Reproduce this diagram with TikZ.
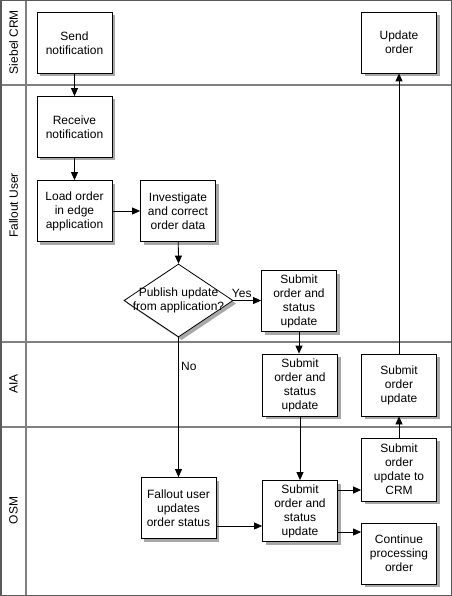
\documentclass[tikz,border=0pt]{standalone}
\usepackage{fontspec}
\setmainfont{Liberation Sans}
\usetikzlibrary{arrows.meta,shapes.geometric}
\definecolor{lanegray}{HTML}{808080}
\definecolor{shadowgray}{HTML}{A8A8A8}
\tikzset{
  boxnode/.style={draw=black, line width=0.8bp, fill=white, minimum width=75bp, minimum height=61bp,
    align=center, inner sep=1bp, font=\fontsize{12bp}{14bp}\selectfont},
  decnode/.style={draw=black, line width=0.8bp, fill=white, diamond, minimum width=109bp, minimum height=73bp,
    inner sep=0pt},
  txt/.style={font=\fontsize{12bp}{14bp}\selectfont, align=center, inner sep=0pt},
  lanelabel/.style={font=\fontsize{12bp}{14bp}\selectfont, rotate=90, inner sep=0pt},
  arr/.style={draw=black, line width=0.8bp, -{Triangle[length=8bp,width=7bp]}},
  laneline/.style={draw=lanegray, line width=1.2bp},
  shadowfill/.style={fill=shadowgray, draw=none},
}
\begin{document}
\begin{tikzpicture}[x=1bp,y=-1bp]
\useasboundingbox (0,0) rectangle (452,596);
% lanes
\draw[laneline] (0,85) -- (452,85);
\draw[laneline] (0,342) -- (452,342);
\draw[laneline] (0,427) -- (452,427);
\draw[laneline] (26,0) -- (26,596);
\draw[draw=lanegray!70!black, line width=1.5bp] (0.75,0.75) rectangle (451.25,595.25);
\node[lanelabel] (l1) at (13.5,42) {Siebel CRM};
\node[lanelabel] (l2) at (13.5,205.5) {Fallout User};
\node[lanelabel] (l3) at (13.5,384) {AIA};
\node[lanelabel] (l4) at (13.5,510.5) {OSM};
% shadows
\fill[shadowfill] (40,15.5) rectangle (115,76.5);
\fill[shadowfill] (40,99.5) rectangle (115,160.5);
\fill[shadowfill] (40,183.5) rectangle (115,244.5);
\fill[shadowfill] (143.5,183.5) rectangle (218.5,244.5);
\fill[shadowfill] (264.5,273.5) rectangle (339.5,334.5);
\fill[shadowfill] (265.5,357) rectangle (340.5,419);
\fill[shadowfill] (364.5,357) rectangle (439.5,419);
\fill[shadowfill] (364.5,15) rectangle (439.5,76);
\fill[shadowfill] (144,480.5) rectangle (219,541.5);
\fill[shadowfill] (265.5,483.5) rectangle (340.5,544.5);
\fill[shadowfill] (364.5,441) rectangle (439.5,504);
\fill[shadowfill] (364.5,526) rectangle (439.5,587);
\fill[shadowfill] (181.5,267) -- (236,303.5) -- (181.5,340) -- (127,303.5) -- cycle;
% nodes
\node[boxnode] (send) at (74.5,43) {Send\\notification};
\node[boxnode] (recv) at (74.5,127) {Receive\\notification};
\node[boxnode] (load) at (74.5,211) {Load order\\in edge\\application};
\node[boxnode] (inv) at (178,211) {Investigate\\and correct\\order data};
\node[decnode] (dec) at (178.5,300.5) {};
\node[txt] (dectxt) at (dec.center) {Publish update\\from application?};
\node[boxnode] (fsub) at (299,301) {Submit\\order and\\status\\update};
\node[boxnode, minimum height=62bp] (asub) at (300,385) {Submit\\order and\\status\\update};
\node[boxnode, minimum height=62bp] (aupd) at (399,385) {Submit\\order\\update};
\node[boxnode] (upd) at (399,42.5) {Update\\order};
\node[boxnode] (fupd) at (178.5,508) {Fallout user\\updates\\order status};
\node[boxnode] (osub) at (300,511) {Submit\\order and\\status\\update};
\node[boxnode, minimum height=63bp] (crm) at (399,469.5) {Submit\\order\\update to\\CRM};
\node[boxnode] (cont) at (399,553.5) {Continue\\processing\\order};
% connectors
\draw[arr] (send) -- (recv);
\draw[arr] (recv) -- (load);
\draw[arr] (load) -- (inv);
\draw[arr] (inv) -- (dec.north);
\draw[arr] (dec.east) -- (dec.east -| fsub.west) node[txt, pos=0.3, above=2bp] (yes) {Yes};
\draw[arr] (dec.south) -- (fupd.north);
\node[txt, anchor=west] (no) at (181,366) {No};
\draw[arr] (fsub.south) -- (fsub.south |- asub.north);
\draw[arr] (asub) -- (osub);
\draw[arr] ([yshift=-18bp]fupd.east) -- ([yshift=-18bp]fupd.east -| osub.west);
\draw[arr] ([yshift=21bp]osub.east) -- ([yshift=21bp]osub.east -| crm.west);
\draw[arr] ([yshift=-21bp]osub.east) -- ([yshift=-21bp]osub.east -| cont.west);
\draw[arr] (crm) -- (aupd);
\draw[arr] (aupd) -- (upd);
\end{tikzpicture}
\end{document}
